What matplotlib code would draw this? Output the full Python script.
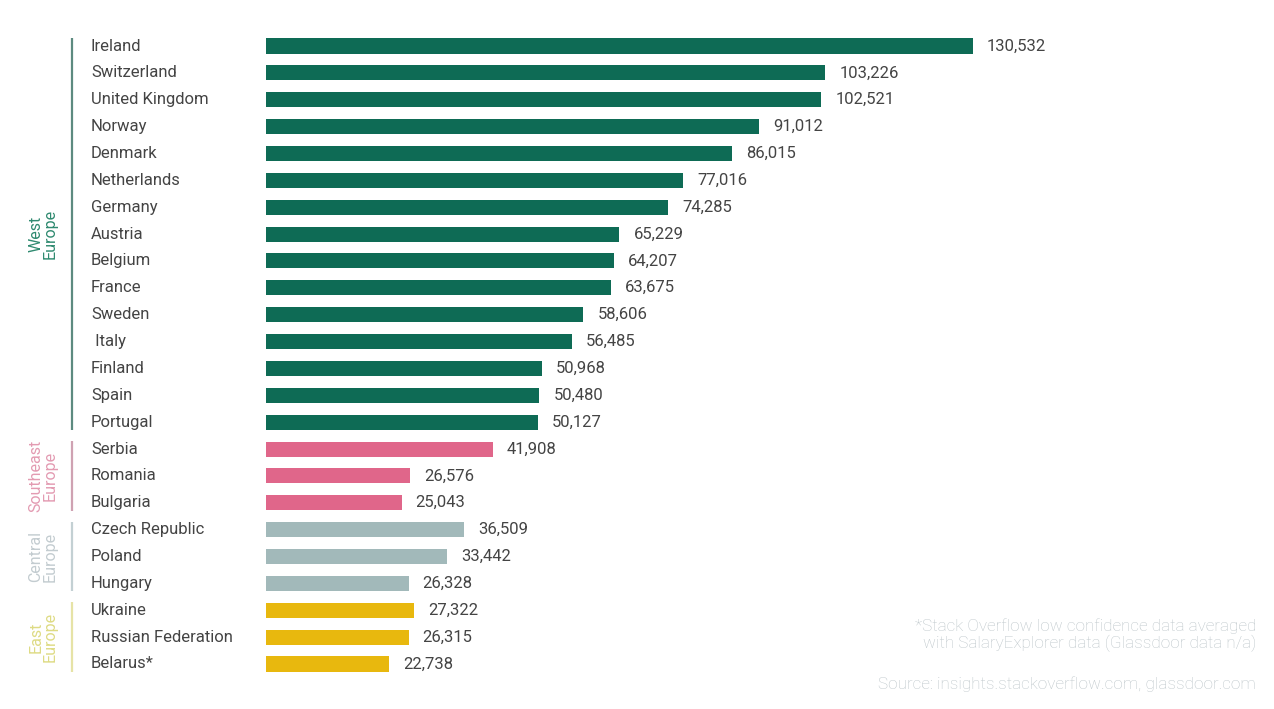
import matplotlib
matplotlib.use("Agg")
import matplotlib.pyplot as plt
from matplotlib.transforms import blended_transform_factory

plt.rcParams['font.family'] = ['Roboto', 'DejaVu Sans']

# Average developer salary by country (USD)
countries = ["Ireland", "Switzerland", "United Kingdom", "Norway", "Denmark",
             "Netherlands", "Germany", "Austria", "Belgium", "France", "Sweden",
             " Italy", "Finland", "Spain", "Portugal",
             "Serbia", "Romania", "Bulgaria",
             "Czech Republic", "Poland", "Hungary",
             "Ukraine", "Russian Federation", "Belarus*"]
salaries = [130532, 103226, 102521, 91012, 86015, 77016, 74285, 65229, 64207,
            63675, 58606, 56485, 50968, 50480, 50127,
            41908, 26576, 25043,
            36509, 33442, 26328,
            27322, 26315, 22738]
regions = ["West\nEurope", "Southeast\nEurope", "Central\nEurope", "East\nEurope"]
region_sizes = [15, 3, 3, 3]
bar_colors = ["#0e6b55", "#e0668a", "#a2b9ba", "#e8b80e"]
line_colors = ["#5d8b80", "#cfa2b2", "#c3d0d3", "#e6e3a6"]
label_colors = ["#2f8a70", "#e39bb2", "#c3ccd0", "#dedb84"]

W, H = 1274, 709
fig = plt.figure(figsize=(W / 100, H / 100), dpi=100)
# axes placed so bars start at x=266px and rows run from y=46 to y=664
left, right = 266, 1274
top, bottom = 46 - 13.43, 664 + 13.43
ax = fig.add_axes([left / W, 1 - bottom / H, (right - left) / W, (bottom - top) / H])
px_per_unit = (973 - 266) / 130532
ax.set_xlim(0, (right - left) / px_per_unit)
ax.set_ylim(len(countries) - 0.5, -0.5)
ax.axis("off")

ypos = list(range(len(countries)))
colors = []
for c, n in zip(bar_colors, region_sizes):
    colors += [c] * n

ax.barh(ypos, salaries, height=0.56, color=colors)
for y, v in zip(ypos, salaries):
    ax.text(v + 2600, y, f"{v:,}", va="center", ha="left", fontsize=12,
            color="#444444")

trans = blended_transform_factory(fig.transFigure, ax.transData)
for y, name in zip(ypos, countries):
    ax.text(91 / W, y, name, transform=trans, va="center", ha="left",
            fontsize=12, color="#444444", clip_on=False)

start = 0
for name, n, lc, tc in zip(regions, region_sizes, line_colors, label_colors):
    end = start + n - 1
    ax.plot([72 / W, 72 / W], [start - 0.3, end + 0.3], transform=trans,
            color=lc, lw=1.6, clip_on=False, solid_capstyle="butt")
    ax.text(43 / W, (start + end) / 2, name, transform=trans, rotation=90,
            va="center", ha="center", fontsize=11.5, color=tc,
            linespacing=0.95, multialignment="center", clip_on=False)
    start += n

fig.text(1256 / W, 1 - 635 / H,
         "*Stack Overflow low confidence data averaged\nwith SalaryExplorer data (Glassdoor data n/a)",
         ha="right", va="center", fontsize=12.3, color="#bcc5c9",
         fontweight="light", linespacing=1.1)
fig.text(1256 / W, 1 - 684 / H, "Source: insights.stackoverflow.com, glassdoor.com",
         ha="right", va="center", fontsize=12.3, color="#bcc5c9", fontweight="light")

fig.savefig("out.png", dpi=100, facecolor="white")
